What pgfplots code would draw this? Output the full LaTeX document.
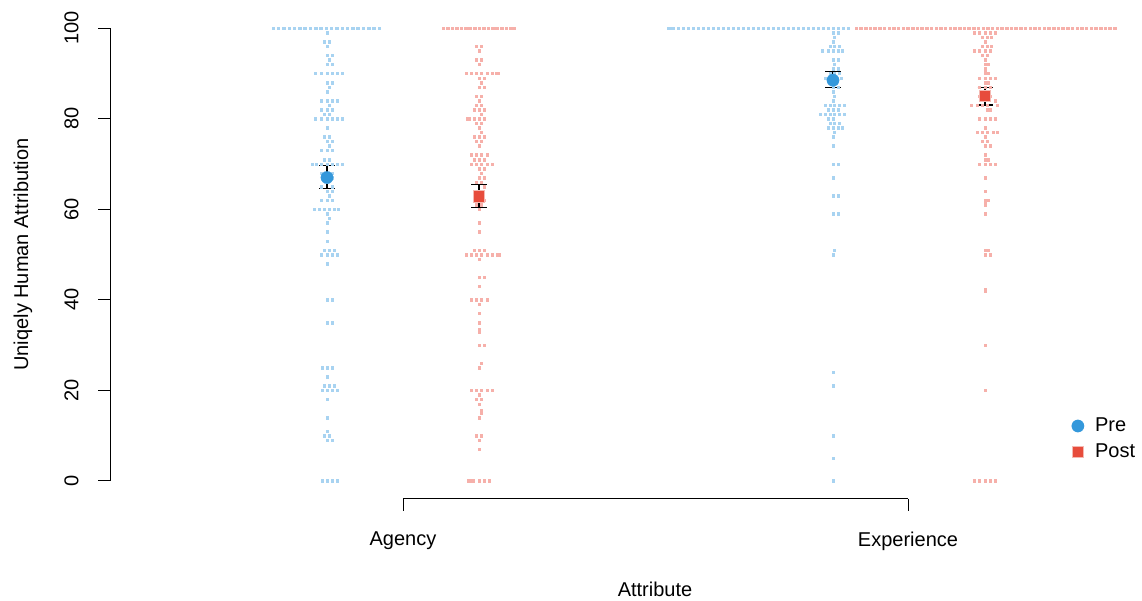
\documentclass[border=0pt]{standalone}
\usepackage{fontspec}
\setmainfont{Liberation Sans}
\usepackage{pgfplots}
\pgfplotsset{compat=1.18}
\definecolor{preblue}{RGB}{52,152,219}
\definecolor{postred}{RGB}{231,76,60}
\definecolor{prelight}{RGB}{168,211,241}
\definecolor{postlight}{RGB}{246,176,170}
\definecolor{postedge}{RGB}{245,185,178}
\begin{document}
\begin{tikzpicture}[font=\fontsize{20}{24}\selectfont]
\useasboundingbox (0,0) rectangle (1142pt,601pt);
\begin{axis}[
  at={(110pt,102pt)}, anchor=south west,
  scale only axis, width=1032pt, height=489pt,
  xmin=110, xmax=1142, ymin=-4, ymax=104,
  clip=false, unbounded coords=jump,
  axis x line*=bottom, axis y line*=left,
  axis line style={draw=none},
  tick align=outside, major tick length=12pt,
  tick style={black, line width=1pt},
  xtick={403,908}, xticklabels={Agency,Experience},
  ytick={0,20,40,60,80,100},
  /pgf/number format/assume math mode=true,
  ticklabel style={font=\fontsize{20}{24}\selectfont},
  yticklabel style={rotate=90, anchor=south, yshift=16pt},
  xticklabel style={yshift=-17pt},
  xlabel={Attribute}, ylabel={Uniqely Human Attribution},
  label style={font=\fontsize{20}{24}\selectfont},
  xlabel style={at={(axis cs:655,-24)}, anchor=center},
  ylabel style={at={(axis cs:23,50)}, anchor=center},
  legend style={at={(axis cs:1071.5,9.25)}, anchor=west, draw=none, fill=none,
    font=\fontsize{20}{24}\selectfont, inner sep=0pt, row sep=2pt,
    nodes={inner sep=3pt, text height=14pt, text depth=4pt},
    /tikz/every odd column/.append style={column sep=8pt}},
  legend cell align=left,
]
% axis lines
\addplot[black, line width=1pt, forget plot] coordinates {(110,0) (110,100)};
\addplot[black, line width=1pt, forget plot] coordinates {(403,-4) (908,-4)};
% Pre points
\addplot[only marks, mark=square*, mark size=1.25pt, color=prelight, line width=0.3pt, forget plot] coordinates {
(273,100)(278.3,100)(283.6,100)(288.9,100)(294.2,100)(299.5,100)(304.8,100)(310.1,100)(315.4,100)(320.7,100)(326,100)(331.3,100)(336.6,100)(341.9,100)(347.2,100)(352.5,100)(357.8,100)(363.1,100)(368.4,100)(373.7,100)(379,100)
(327,99)
(324,97)(329,97)
(327,96)
(327,94)(332,94)
(329,93)
(327,92)(332,92)
(315,90)(321,90)(327,90)(332,90)(337,90)(342,90)
(327,88)(332,88)
(329,87)
(327,86)
(321,84)(327,84)(332,84)(337,84)
(329,83)
(321,82)(327,82)(332,82)
(324,81)(329,81)
(315,80)(321,80)(327,80)(332,80)(337,80)(342,80)
(327,78)
(324,76)(329,76)
(327,75)(332,75)
(329,74)
(321,73)(327,73)(332,73)
(324,71)(329,71)
(312,70)(316,70)(321,70)(327,70)(332,70)(337,70)(342,70)
(321,68)(327,68)(332,68)
(322,67)(332,67)
(327,66)
(321,65)(332,65)
(327,64)(332,64)
(329,63)
(321,62)(327,62)(332,62)
(314,60)(319,60)(324,60)(329,60)(334,60)(338,60)
(327,59)(329,58)(327,57)(327,55)(327,53)
(324,51)(329,51)(334,51)
(321,50)(327,50)(332,50)(337,50)
(327,48)
(327,40)(332,40)
(327,35)(332,35)
(322,25)(327,25)(332,25)
(327,23)
(324,21)(329,21)(334,21)
(322,20)(327,20)(332,20)(337,20)
(327,18)(327,14)(327,11)
(324,10)(329,10)
(327,9)(332,9)
(322,0)(327,0)(332,0)(337,0)
(668,100)(670,100)(673,100)(678,100)(683,100)(688,100)(693,100)(698,100)(703,100)(708,100)(713,100)(718,100)(723,100)(728,100)(733,100)(738,100)(743,100)(748,100)(753,100)(758,100)(763,100)(768,100)(773,100)(778,100)(783,100)(788,100)(793,100)(798,100)(803,100)(808,100)(813,100)(818,100)(823,100)(828,100)(833,100)(838,100)(843,100)(848,100)
(833,99)(838,99)(834,98)(833,97)(830,96)(834,96)(839,96)
(822,95)(828,95)(833,95)(838,95)(842,95)
(833,93)(838,93)(834,92)(833,91)(838,91)(830,90)(834,90)(839,90)
(825,89)(841,89)(830,88)(836,88)(833,87)(838,87)
(833,86)(834,85)(833,84)
(825,83)(830,83)(834,83)(839,83)(844,83)
(828,82)(833,82)(838,82)
(820,81)(825,81)(830,81)(834,81)(839,81)(844,81)
(828,80)(833,80)
(830,79)(834,79)(839,79)
(828,78)(833,78)(838,78)(842,78)
(834,77)(833,76)(833,74)(833,70)(838,70)(833,67)(833,63)(838,63)(833,59)(838,59)
(834,51)(833,50)(833,24)(833,21)(833,10)(833,5)(833,0)
};
% Post points
\addplot[only marks, mark=square*, mark size=1.25pt, color=postlight, line width=0.3pt, forget plot] coordinates {
(443,100)(447.5,100)(452,100)(456.5,100)(461,100)(465.5,100)(468,100)(470,100)(474.5,100)(479,100)(483.5,100)(488,100)(492.5,100)(495,100)(497,100)(501.5,100)(506,100)(510.5,100)(514,100)
(476,96)(481,96)(479,95)(476,93)(481,93)(479,92)
(466,90)(471,90)(476,90)(481,90)(487,90)(492,90)(496,90)(498,90)
(479,89)(484,89)(481,88)(479,87)(484,87)(476,85)(481,85)(479,84)(476,83)(481,83)
(474,82)(479,82)(484,82)(481,81)
(467,80)(469,80)(474,80)(479,80)(484,80)
(476,79)(481,79)(479,78)(481,77)
(474,76)(479,76)(484,76)(476,75)(481,75)(479,74)
(471,72)(476,72)(481,72)(487,72)
(474,71)(479,71)(484,71)
(471,70)(476,70)(481,70)(487,70)(492,70)
(479,69)(484,69)(481,68)(479,67)(484,67)(476,66)(481,66)(484,65)
(476,64)(481,64)(479,63)(474,62)(484,62)(476,61)(481,61)(479,60)
(479,57)(479,55)
(474,51)(479,51)(484,51)
(466,50)(471,50)(476,50)(481,50)(487,50)(492,50)(497,50)(499,50)
(479,49)(479,45)(484,45)(479,43)
(471,40)(476,40)(481,40)(487,40)
(479,39)(479,37)(479,35)(479,33)(479,33.5)
(479,30)(484,30)
(481,26)(479,25)
(471,20)(476,20)(481,20)(487,20)(492,20)
(479,19)(476,18)(481,18)(479,17)(481,15)(481,15.5)(479,14)
(476,10)(481,10)(479,9)(479,7)
(468,0)(470,0)(473,0)(479,0)(484,0)(489,0)
(856,100)(860.7,100)(865.4,100)(870.1,100)(874.8,100)(879.5,100)(884.2,100)(888.9,100)(893.6,100)(898.3,100)(903,100)(907.7,100)(912.4,100)(917.1,100)(921.8,100)(926.5,100)(931.2,100)(935.9,100)(940.6,100)(945.3,100)(950,100)(954.7,100)(959.4,100)(964.1,100)(968.8,100)(973.5,100)(978.2,100)(982.9,100)(987.6,100)(992.3,100)(997,100)(1001.7,100)(1006.4,100)(1011.1,100)(1015.8,100)(1020.5,100)(1025.2,100)(1029.9,100)(1034.6,100)(1039.3,100)(1044,100)(1048.7,100)(1053.4,100)(1058.1,100)(1062.8,100)(1067.5,100)(1072.2,100)(1076.9,100)(1081.6,100)(1086.3,100)(1091,100)(1095.7,100)(1100.4,100)(1105.1,100)(1109.8,100)(1114.5,100)
(974,99)(979,99)(985,99)(990,99)(995,99)
(982,98)(987,98)(991,98)
(985,97)
(982,96)(987,96)(991,96)
(974,95)(979,95)(985,95)(990,95)
(982,94)(987,94)
(985,93)
(985,92)(988,92)
(985,91)(985,90.5)
(985,90)(988,90)
(979,89)(985,89)(990,89)(995,89)
(985,88)(988,88)
(979,87)(985,87)(990,87)
(982,86)(987,86)
(979,85)(990,85)
(995,84)
(971,83)(977,83)(982,83)(987,83)(997,83)
(987,82)(990,82)
(979,80)(985,80)(990,80)(995,80)
(985,78)
(977,77)(982,77)(987,77)(993,77)(997,77)
(985,76)
(982,75)(987,75)
(985,74)(990,74)
(985,72)
(985,71)(988,71)
(979,70)(985,70)(990,70)(995,70)
(985,67)(985,64)
(985,62)(988,62)(985,61.5)(985,61)(985,59)
(985,51)(988,51)(985,50)(990,50)
(985,42)(985,42.4)
(985,30)(985,20)
(974,0)(979,0)(985,0)(990,0)(995,0)
};
% error bars (vertical segment and caps)
\addplot[black, line width=1.2pt, forget plot] coordinates {
(327,64.5)(327,69.6)(327,nan)(319,69.6)(335,69.6)(335,nan)(319,64.5)(335,64.5)(335,nan)
(479,60.3)(479,65.4)(479,nan)(471,65.4)(487,65.4)(487,nan)(471,60.3)(487,60.3)(487,nan)
(833,86.8)(833,90.35)(833,nan)(825,90.35)(841,90.35)(841,nan)(825,86.8)(841,86.8)(841,nan)
(985,83.0)(985,86.8)(985,nan)(977.5,86.8)(992.5,86.8)(992.5,nan)(977.5,83.0)(992.5,83.0)
};
% means
\addplot[only marks, mark=*, mark size=6.2pt, color=preblue, line width=0.2pt]
  coordinates {(327,67.0) (833,88.5)};
\addlegendentry{Pre}
\addplot[only marks, mark=square*, mark size=5.8pt, draw=postedge, fill=postred, line width=0.8pt]
  coordinates {(479,62.85) (985,85.0)};
\addlegendentry{Post}
\end{axis}
\end{tikzpicture}
\end{document}
